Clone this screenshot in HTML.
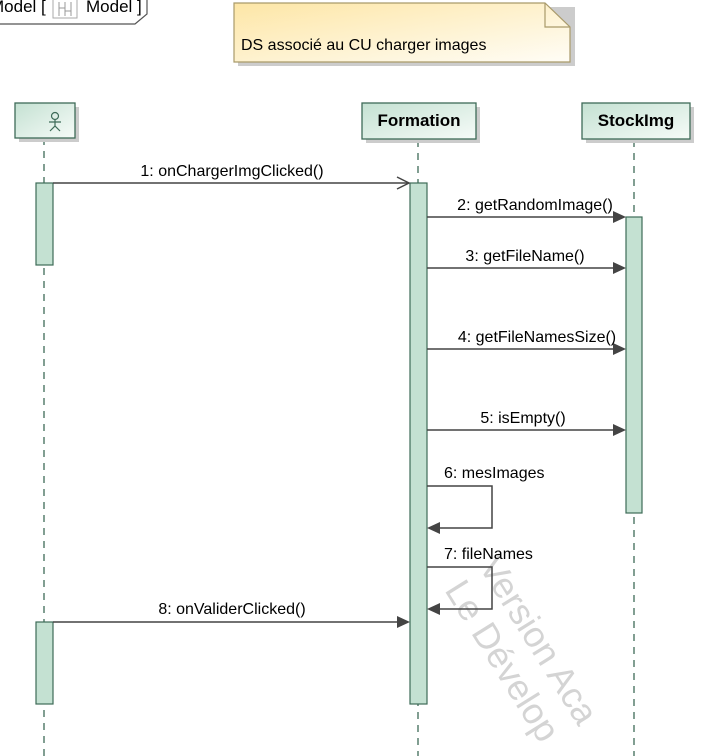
<!DOCTYPE html>
<html><head><meta charset="utf-8"><style>
html,body{margin:0;padding:0;background:#fff;width:711px;height:756px;overflow:hidden;}
svg{display:block;font-family:"Liberation Sans",Arial,sans-serif;}
</style></head><body>
<svg width="711" height="756" viewBox="0 0 711 756" xmlns="http://www.w3.org/2000/svg">
<defs>
<linearGradient id="g" x1="0" y1="0" x2="1" y2="1"><stop offset="0" stop-color="#c4e1d2"/><stop offset="1" stop-color="#f6fbf8"/></linearGradient>
<linearGradient id="n" x1="0" y1="0" x2="1" y2="1"><stop offset="0" stop-color="#fde6a6"/><stop offset="1" stop-color="#fffdf6"/></linearGradient>
</defs>
<path d="M-2,0 L-2,24 L135,24 L147,14 L147,-2" fill="#fff" stroke="#555" stroke-width="1.2"/>
<text x="-10" y="12" font-size="17">Model [</text>
<rect x="53" y="-2" width="24" height="20" fill="#fff" stroke="#aaa"/>
<path d="M59,2 v14 M65,2 v14 M71,2 v14 M59,8 h6 M65,11 h6" stroke="#999" fill="none"/>
<text x="86" y="12" font-size="17">Model ]</text>
<path d="M238,7 h337 v59 h-337z" fill="#ccc"/>
<path d="M234,3 h311 l25,24 v35 h-336z" fill="url(#n)" stroke="#a99a6a" stroke-width="1.2"/>
<path d="M545,3 v24 h25" fill="none" stroke="#a99a6a" stroke-width="1.2"/>
<text x="241" y="50" font-size="16">DS associé au CU charger images</text>
<g fill="#d4d4d4" font-size="36">
<text transform="translate(478,566) rotate(58)">Version Aca</text>
<text transform="translate(444,590) rotate(58)">Le Dévelop</text>
</g>
<g stroke="#3e6b58" stroke-width="1.3" stroke-dasharray="7,6">
<line x1="44" y1="138" x2="44" y2="756"/>
<line x1="418" y1="140" x2="418" y2="756"/>
<line x1="634" y1="140" x2="634" y2="756"/>
</g>
<g>
<rect x="19" y="107" width="60" height="35" fill="#ccc"/>
<rect x="15" y="103" width="60" height="35" fill="url(#g)" stroke="#3e6b58" stroke-width="1.3"/>
<g stroke="#3e6b58" fill="none" stroke-width="1.2"><circle cx="55" cy="116" r="3.5"/><path d="M55,120 v6 M49,122 h12 M50,131 l5,-5 l5,5"/></g>
<rect x="366" y="107" width="114" height="36" fill="#ccc"/>
<rect x="362" y="103" width="114" height="36" fill="url(#g)" stroke="#3e6b58" stroke-width="1.3"/>
<text x="419" y="126" font-size="17" font-weight="bold" text-anchor="middle">Formation</text>
<rect x="586" y="107" width="108" height="36" fill="#ccc"/>
<rect x="582" y="103" width="108" height="36" fill="url(#g)" stroke="#3e6b58" stroke-width="1.3"/>
<text x="636" y="126" font-size="17" font-weight="bold" text-anchor="middle">StockImg</text>
</g>
<g fill="#c4e1d2" stroke="#3e6b58" stroke-width="1.2">
<rect x="36" y="183" width="17" height="82"/>
<rect x="36" y="622" width="17" height="82"/>
<rect x="410" y="183" width="17" height="521"/>
<rect x="626" y="217" width="16" height="296"/>
</g>
<g stroke="#444" stroke-width="1.5" fill="none">
<line x1="53" y1="183" x2="409" y2="183"/>
<path d="M397,177 L409,183 L397,189"/>
<line x1="427" y1="217" x2="615" y2="217"/>
<line x1="427" y1="268" x2="615" y2="268"/>
<line x1="427" y1="349" x2="615" y2="349"/>
<line x1="427" y1="430" x2="615" y2="430"/>
<path d="M427,486 H492 V528 H438"/>
<path d="M427,567 H492 V609 H438"/>
<line x1="53" y1="622" x2="399" y2="622"/>
</g>
<g fill="#444">
<path d="M613,211 L626,217 L613,223z"/>
<path d="M613,262 L626,268 L613,274z"/>
<path d="M613,343 L626,349 L613,355z"/>
<path d="M613,424 L626,430 L613,436z"/>
<path d="M440,522 L427,528 L440,534z"/>
<path d="M440,603 L427,609 L440,615z"/>
<path d="M397,616 L410,622 L397,628z"/>
</g>
<g font-size="16">
<text x="232" y="176" text-anchor="middle">1: onChargerImgClicked()</text>
<text x="535" y="210" text-anchor="middle">2: getRandomImage()</text>
<text x="525" y="261" text-anchor="middle">3: getFileName()</text>
<text x="537" y="342" text-anchor="middle">4: getFileNamesSize()</text>
<text x="523" y="423" text-anchor="middle">5: isEmpty()</text>
<text x="444" y="478">6: mesImages</text>
<text x="444" y="559">7: fileNames</text>
<text x="232" y="614" text-anchor="middle">8: onValiderClicked()</text>
</g>
</svg>
</body></html>
